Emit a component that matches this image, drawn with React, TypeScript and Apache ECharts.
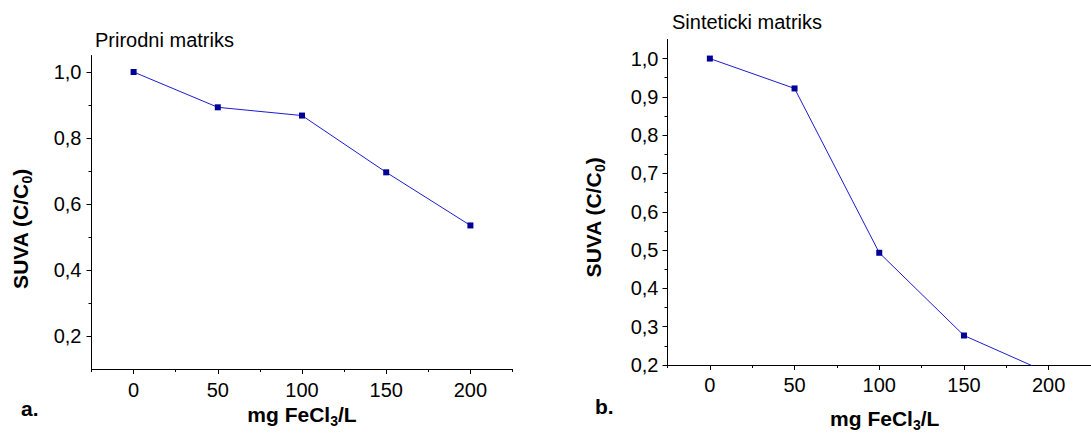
import React, { useEffect, useRef } from 'react';
import * as echarts from 'echarts';

// ---- data ----
const doses = [0, 50, 100, 150, 200];
const naturalMatrix = [1.0, 0.893, 0.868, 0.696, 0.535];
const syntheticMatrix = [1.0, 0.922, 0.493, 0.277, 0.179];

const xMajorTicks = [0, 50, 100, 150, 200];
const xMinorTicks = [-25, 25, 75, 125, 175, 225];
const leftYMajor = [0.2, 0.4, 0.6, 0.8, 1.0];
const leftYMinor = [0.3, 0.5, 0.7, 0.9];
const rightYMajor = [0.2, 0.3, 0.4, 0.5, 0.6, 0.7, 0.8, 0.9, 1.0];
const rightYMinor = [0.25, 0.35, 0.45, 0.55, 0.65, 0.75, 0.85, 0.95];

const panelTitles = ['Prirodni matriks', 'Sinteticki matriks'];
const panelLetters = ['a.', 'b.'];
const xTitleParts = ['mg FeCl', '3', '/L'];
const yTitleParts = ['SUVA (C/C', '0', ')'];

const FONT = 'Arial, "Liberation Sans", Helvetica, sans-serif';
const BLACK = '#000';
const LINE_COLOR = '#1c1cd0';
const MARK_COLOR = '#000096';

const fmtY = (v: number) => v.toFixed(1).replace('.', ',');

function majorAxis(gridIndex: number, min: number, max: number, values: number[], isY: boolean, margin: number) {
  return {
    type: 'value',
    gridIndex,
    min,
    max,
    position: isY ? 'left' : 'bottom',
    axisLine: { show: true, onZero: false, lineStyle: { color: BLACK, width: 1 } },
    axisTick: { show: true, customValues: values, length: 5, lineStyle: { color: BLACK, width: 1 } },
    axisLabel: {
      show: true,
      customValues: values,
      margin,
      color: BLACK,
      fontSize: 20,
      fontFamily: FONT,
      formatter: isY ? fmtY : (v: number) => String(v),
    },
    splitLine: { show: false },
  };
}

function minorAxis(gridIndex: number, min: number, max: number, values: number[], isY: boolean) {
  return {
    type: 'value',
    gridIndex,
    min,
    max,
    position: isY ? 'left' : 'bottom',
    axisLine: { show: false, onZero: false },
    axisTick: { show: true, customValues: values, length: 3, lineStyle: { color: BLACK, width: 1 } },
    axisLabel: { show: false },
    splitLine: { show: false },
  };
}

const richTitle = {
  b: { fontSize: 21, fontWeight: 'bold', fontFamily: FONT, fill: BLACK, lineHeight: 24, verticalAlign: 'top' },
  s: { fontSize: 14, fontWeight: 'bold', fontFamily: FONT, fill: BLACK, lineHeight: 14, padding: [14, 0, 0, 0], verticalAlign: 'bottom' },
};

const composed = (parts: string[]) => `{b|${parts[0]}}{s|${parts[1]}}{b|${parts[2]}}`;

export default function App() {
  const ref = useRef<HTMLDivElement>(null);

  useEffect(() => {
    if (!ref.current) return;
    const chart = echarts.init(ref.current, undefined, { renderer: 'svg' });

    const option: any = {
      animation: false,
      backgroundColor: '#fff',
      grid: [
        { left: 91.5, top: 55.5, width: 421, height: 313.5 },
        { left: 667.5, top: 39.4, width: 435, height: 325.6 },
      ],
      xAxis: [
        majorAxis(0, -25, 225, xMajorTicks, false, 11),
        minorAxis(0, -25, 225, xMinorTicks, false),
        majorAxis(1, -25, 225, xMajorTicks, false, 10),
        minorAxis(1, -25, 225, xMinorTicks, false),
      ],
      yAxis: [
        majorAxis(0, 0.1, 1.05, leftYMajor, true, 10),
        minorAxis(0, 0.1, 1.05, leftYMinor, true),
        majorAxis(1, 0.2, 1.05, rightYMajor, true, 9),
        minorAxis(1, 0.2, 1.05, rightYMinor, true),
      ],
      series: [
        {
          type: 'line',
          xAxisIndex: 0,
          yAxisIndex: 0,
          data: doses.map((d, i) => [d, naturalMatrix[i]]),
          symbol: 'rect',
          symbolSize: 6,
          itemStyle: { color: MARK_COLOR },
          lineStyle: { color: LINE_COLOR, width: 1 },
        },
        {
          type: 'line',
          xAxisIndex: 2,
          yAxisIndex: 2,
          clip: true,
          data: doses.map((d, i) => [d, syntheticMatrix[i]]),
          symbol: 'rect',
          symbolSize: 6,
          itemStyle: { color: MARK_COLOR },
          lineStyle: { color: LINE_COLOR, width: 1 },
        },
      ],
      graphic: [
        { type: 'text', x: 95, y: 39.5, style: { text: panelTitles[0], font: `20px ${FONT}`, fill: BLACK, align: 'left', verticalAlign: 'middle' } },
        { type: 'text', x: 672, y: 22.2, style: { text: panelTitles[1], font: `20px ${FONT}`, fill: BLACK, align: 'left', verticalAlign: 'middle' } },
        { type: 'text', x: 21, y: 408.5, style: { text: panelLetters[0], font: `bold 21px ${FONT}`, fill: BLACK, align: 'left', verticalAlign: 'middle' } },
        { type: 'text', x: 595, y: 406.8, style: { text: panelLetters[1], font: `bold 21px ${FONT}`, fill: BLACK, align: 'left', verticalAlign: 'middle' } },
        { type: 'text', x: 302, y: 415.5, style: { text: composed(xTitleParts), rich: richTitle, align: 'center', verticalAlign: 'middle' } },
        { type: 'text', x: 884.7, y: 420, style: { text: composed(xTitleParts), rich: richTitle, align: 'center', verticalAlign: 'middle' } },
        { type: 'text', x: 22, y: 229, rotation: Math.PI / 2, style: { text: composed(yTitleParts), rich: richTitle, align: 'center', verticalAlign: 'middle' } },
        { type: 'text', x: 595, y: 217.5, rotation: Math.PI / 2, style: { text: composed(yTitleParts), rich: richTitle, align: 'center', verticalAlign: 'middle' } },
      ],
    };

    chart.setOption(option);
    return () => chart.dispose();
  }, []);

  return (
    <div
      ref={ref}
      style={{ position: 'absolute', left: 0, top: 0, width: 1091, height: 434, overflow: 'hidden' }}
    />
  );
}
